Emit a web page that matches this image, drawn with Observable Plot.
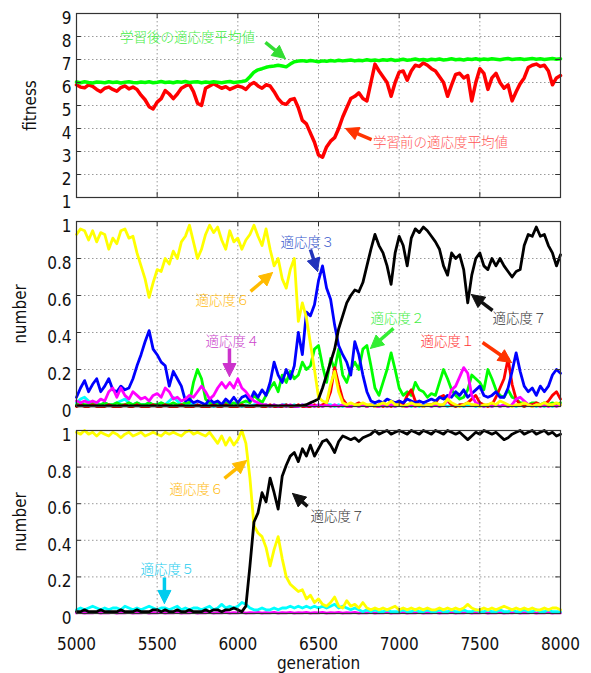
<!DOCTYPE html>
<html><head><meta charset="utf-8">
<script src="https://cdn.jsdelivr.net/npm/d3@7"></script>
<script src="https://cdn.jsdelivr.net/npm/@observablehq/plot@0.6"></script>
<style>body{margin:0;background:#fff} #chart svg{display:block}</style>
</head><body><div id="chart"></div>
<script>
// generations sampled every 25
const generations = d3.range(5000, 8001, 25);
const xTicks = [5000, 5500, 6000, 6500, 7000, 7500, 8000];
const fitnessTicks = [1, 2, 3, 4, 5, 6, 7, 8, 9];
const numberTicks = [0, 0.2, 0.4, 0.6, 0.8, 1];

// Panel 1: mean fitness before / after learning
const fitBefore = [
5.90,5.80,5.77,5.90,5.83,5.70,5.60,5.75,5.80,5.70,
5.62,5.78,5.85,5.72,5.80,5.70,5.45,5.25,4.95,4.85,
5.15,5.30,5.65,5.50,5.30,5.50,5.75,5.85,5.92,5.60,
5.10,5.00,5.75,5.85,5.95,5.85,5.75,5.82,5.70,5.78,
5.85,5.80,5.70,5.90,6.00,5.85,5.75,5.90,5.85,5.60,
5.30,5.10,5.05,5.25,5.30,4.90,4.35,4.20,3.80,3.40,
2.85,2.75,3.20,3.45,3.60,4.00,4.50,4.90,5.30,5.40,
5.55,5.30,5.20,6.00,6.80,6.50,6.25,6.00,5.40,6.00,
6.45,6.50,6.10,6.50,6.75,6.70,6.85,6.75,6.60,6.50,
6.25,6.00,5.40,5.90,6.35,6.40,6.20,6.30,5.20,6.00,
6.60,6.40,5.70,6.20,6.40,6.00,5.75,5.90,5.20,5.60,
5.95,6.20,6.65,6.75,6.80,6.70,6.75,6.50,5.90,6.20,
6.30];
const fitAfter = [
6.02,5.99,6.03,6.00,5.98,6.02,6.01,5.99,6.03,6.00,
6.02,5.98,6.01,6.03,6.00,5.99,6.02,6.00,6.03,5.99,
6.01,6.04,6.00,6.02,5.99,6.03,6.01,6.04,6.00,6.02,
6.03,5.99,6.02,6.00,6.03,6.01,5.99,6.02,6.04,6.00,
6.02,6.04,6.08,6.25,6.45,6.55,6.60,6.66,6.70,6.72,
6.75,6.72,6.68,6.80,6.90,6.93,6.95,6.92,6.96,6.93,
6.90,6.94,6.92,6.96,6.93,6.97,6.94,6.96,6.98,6.94,
6.97,6.95,6.99,6.96,6.98,6.95,6.99,6.97,7.00,6.96,
6.98,7.01,6.97,6.99,7.02,6.98,7.00,6.97,7.01,6.99,
7.02,6.98,7.00,7.03,6.99,7.01,6.98,7.02,7.00,7.03,
6.99,7.02,7.00,7.03,7.01,6.99,7.02,7.04,7.00,7.02,
7.03,7.00,7.02,7.04,7.01,7.03,7.00,7.02,7.04,7.01,
7.03];

// Panel 2: share of individuals per fitness (before learning)
const p2Fit1 = [
0.00,0.01,0.00,0.00,0.01,0.00,0.00,0.00,0.01,0.00,
0.00,0.00,0.01,0.00,0.00,0.01,0.00,0.00,0.00,0.01,
0.00,0.00,0.01,0.00,0.00,0.00,0.01,0.00,0.00,0.00,
0.01,0.00,0.00,0.00,0.01,0.00,0.00,0.01,0.00,0.00,
0.00,0.01,0.00,0.00,0.00,0.01,0.00,0.00,0.01,0.00,
0.00,0.00,0.01,0.00,0.00,0.01,0.00,0.00,0.00,0.01,
0.00,0.01,0.02,0.08,0.21,0.12,0.04,0.01,0.00,0.01,
0.02,0.01,0.00,0.01,0.00,0.01,0.00,0.01,0.00,0.01,
0.03,0.01,0.06,0.09,0.03,0.01,0.00,0.01,0.01,0.02,
0.05,0.06,0.03,0.01,0.00,0.01,0.01,0.02,0.04,0.06,
0.02,0.01,0.00,0.01,0.05,0.10,0.15,0.26,0.12,0.04,
0.01,0.00,0.01,0.01,0.02,0.01,0.01,0.03,0.06,0.08,
0.04];
const p2Fit2 = [
0.01,0.02,0.01,0.01,0.02,0.01,0.01,0.02,0.01,0.01,
0.02,0.01,0.01,0.02,0.01,0.02,0.01,0.01,0.02,0.01,
0.01,0.02,0.01,0.01,0.02,0.01,0.01,0.02,0.02,0.13,
0.20,0.15,0.04,0.02,0.01,0.02,0.01,0.02,0.01,0.02,
0.01,0.02,0.03,0.02,0.06,0.04,0.02,0.06,0.10,0.13,
0.08,0.17,0.13,0.19,0.15,0.17,0.24,0.20,0.22,0.31,
0.33,0.22,0.13,0.26,0.20,0.31,0.17,0.13,0.20,0.24,
0.20,0.31,0.33,0.22,0.10,0.06,0.13,0.20,0.29,0.20,
0.10,0.06,0.08,0.06,0.13,0.09,0.08,0.05,0.07,0.06,
0.13,0.20,0.15,0.09,0.06,0.04,0.05,0.09,0.17,0.15,
0.13,0.09,0.20,0.15,0.09,0.06,0.05,0.09,0.05,0.04,
0.02,0.02,0.01,0.02,0.02,0.01,0.02,0.01,0.02,0.01,
0.02];
const p2Fit3 = [
0.05,0.10,0.14,0.08,0.12,0.15,0.08,0.11,0.15,0.09,
0.08,0.11,0.09,0.10,0.15,0.22,0.28,0.35,0.41,0.31,
0.28,0.24,0.22,0.11,0.19,0.15,0.11,0.03,0.04,0.02,
0.03,0.02,0.01,0.04,0.02,0.03,0.01,0.04,0.02,0.05,
0.02,0.05,0.06,0.03,0.08,0.05,0.09,0.06,0.13,0.24,
0.17,0.13,0.20,0.15,0.22,0.40,0.28,0.51,0.49,0.55,
0.68,0.76,0.64,0.58,0.44,0.33,0.28,0.24,0.17,0.35,
0.28,0.17,0.08,0.03,0.02,0.03,0.02,0.04,0.03,0.02,
0.03,0.02,0.04,0.03,0.02,0.03,0.02,0.03,0.04,0.03,
0.05,0.04,0.06,0.05,0.08,0.06,0.09,0.05,0.07,0.09,
0.11,0.06,0.05,0.06,0.08,0.05,0.05,0.10,0.19,0.29,
0.19,0.11,0.08,0.10,0.06,0.11,0.08,0.11,0.17,0.20,
0.18];
const p2Fit4 = [
0.03,0.02,0.03,0.02,0.03,0.02,0.04,0.03,0.08,0.10,
0.05,0.10,0.06,0.04,0.08,0.06,0.04,0.05,0.03,0.06,
0.07,0.05,0.10,0.08,0.04,0.05,0.03,0.04,0.06,0.05,
0.08,0.11,0.08,0.04,0.06,0.10,0.13,0.10,0.13,0.10,
0.15,0.10,0.08,0.05,0.03,0.02,0.01,0.01,0.00,0.01,
0.00,0.01,0.00,0.01,0.00,0.00,0.01,0.00,0.01,0.00,
0.01,0.00,0.01,0.00,0.01,0.00,0.01,0.00,0.00,0.01,
0.00,0.01,0.00,0.01,0.00,0.00,0.01,0.00,0.01,0.00,
0.01,0.00,0.00,0.01,0.00,0.01,0.00,0.01,0.00,0.01,
0.00,0.01,0.03,0.09,0.11,0.16,0.21,0.18,0.06,0.02,
0.01,0.00,0.01,0.00,0.01,0.00,0.01,0.00,0.01,0.04,
0.05,0.03,0.01,0.00,0.01,0.00,0.01,0.00,0.01,0.00,
0.01];
const p2Fit5 = [
0.02,0.04,0.05,0.03,0.01,0.02,0.01,0.02,0.01,0.01,
0.02,0.03,0.04,0.02,0.01,0.02,0.01,0.01,0.02,0.01,
0.01,0.02,0.01,0.03,0.05,0.03,0.01,0.01,0.02,0.01,
0.01,0.00,0.01,0.01,0.00,0.01,0.00,0.01,0.01,0.00,
0.01,0.00,0.01,0.00,0.01,0.01,0.00,0.01,0.00,0.01,
0.00,0.01,0.01,0.00,0.01,0.00,0.01,0.00,0.01,0.00,
0.01,0.00,0.01,0.01,0.00,0.01,0.00,0.01,0.00,0.01,
0.00,0.01,0.00,0.01,0.01,0.00,0.01,0.00,0.01,0.00,
0.01,0.00,0.01,0.00,0.01,0.00,0.01,0.01,0.00,0.01,
0.00,0.01,0.00,0.01,0.00,0.01,0.00,0.01,0.01,0.00,
0.01,0.00,0.01,0.00,0.01,0.00,0.01,0.00,0.01,0.00,
0.01,0.00,0.01,0.01,0.00,0.01,0.00,0.01,0.00,0.01,
0.01];
const p2Fit6 = [
0.93,0.96,0.95,0.90,0.95,0.89,0.94,0.93,0.85,0.91,
0.88,0.95,0.96,0.91,0.92,0.83,0.76,0.69,0.59,0.67,
0.74,0.73,0.80,0.77,0.84,0.80,0.89,0.92,0.98,0.89,
0.80,0.85,0.93,0.98,0.94,0.97,0.90,0.85,0.95,0.89,
0.91,0.85,0.90,0.93,0.98,0.92,0.87,0.96,0.85,0.76,
0.80,0.69,0.64,0.74,0.80,0.46,0.56,0.48,0.34,0.20,
0.05,0.03,0.02,0.12,0.19,0.08,0.02,0.01,0.02,0.01,
0.01,0.02,0.01,0.01,0.00,0.01,0.02,0.01,0.03,0.01,
0.01,0.00,0.01,0.02,0.01,0.01,0.00,0.01,0.01,0.02,
0.01,0.01,0.04,0.02,0.01,0.00,0.01,0.02,0.01,0.01,
0.00,0.01,0.01,0.02,0.01,0.03,0.02,0.01,0.00,0.01,
0.01,0.02,0.01,0.00,0.01,0.01,0.02,0.01,0.01,0.02,
0.01];
const p2Fit7 = [
0.003,0.003,0.003,0.003,0.003,0.003,0.003,0.003,0.003,0.003,
0.003,0.003,0.003,0.003,0.003,0.003,0.003,0.003,0.003,0.003,
0.003,0.003,0.003,0.003,0.003,0.003,0.003,0.003,0.003,0.003,
0.003,0.003,0.003,0.003,0.003,0.003,0.003,0.003,0.003,0.003,
0.003,0.003,0.003,0.003,0.003,0.003,0.003,0.003,0.003,0.003,
0.003,0.003,0.003,0.003,0.003,0.005,0.005,0.01,0.02,0.03,
0.04,0.10,0.17,0.24,0.31,0.42,0.49,0.56,0.60,0.63,
0.62,0.67,0.76,0.85,0.93,0.87,0.83,0.76,0.66,0.83,
0.92,0.87,0.76,0.91,0.96,0.94,0.97,0.95,0.92,0.89,
0.85,0.76,0.71,0.83,0.80,0.82,0.74,0.56,0.71,0.80,
0.83,0.76,0.74,0.80,0.76,0.80,0.76,0.73,0.70,0.73,
0.74,0.87,0.93,0.92,0.97,0.92,0.93,0.87,0.83,0.76,
0.82];

// Panel 3: share of individuals per fitness (after learning)
const p3Fit4 = [
0.003,0.006,0.002,0.005,0.003,0.006,0.002,0.005,0.003,0.006,
0.002,0.005,0.003,0.006,0.002,0.005,0.003,0.006,0.002,0.005,
0.003,0.006,0.002,0.005,0.003,0.006,0.002,0.005,0.003,0.006,
0.002,0.005,0.003,0.006,0.002,0.005,0.003,0.006,0.002,0.005,
0.003,0.006,0.002,0.005,0.003,0.006,0.002,0.005,0.003,0.006,
0.002,0.005,0.003,0.006,0.002,0.005,0.003,0.006,0.002,0.005,
0.003,0.006,0.002,0.005,0.003,0.006,0.002,0.005,0.003,0.006,
0.002,0.005,0.003,0.006,0.002,0.005,0.003,0.006,0.002,0.005,
0.003,0.006,0.002,0.005,0.003,0.006,0.002,0.005,0.003,0.006,
0.002,0.005,0.003,0.006,0.002,0.005,0.003,0.006,0.002,0.005,
0.003,0.006,0.002,0.005,0.003,0.006,0.002,0.005,0.003,0.006,
0.002,0.005,0.003,0.006,0.002,0.005,0.003,0.006,0.002,0.005,
0.003];
const p3Fit5 = [
0.02,0.03,0.02,0.03,0.04,0.03,0.02,0.03,0.02,0.03,
0.03,0.02,0.04,0.03,0.02,0.03,0.02,0.03,0.04,0.03,
0.02,0.03,0.03,0.02,0.03,0.04,0.02,0.03,0.02,0.03,
0.03,0.02,0.03,0.04,0.02,0.03,0.05,0.03,0.04,0.03,
0.04,0.06,0.05,0.03,0.02,0.02,0.03,0.02,0.02,0.03,
0.02,0.03,0.03,0.04,0.03,0.04,0.03,0.04,0.03,0.04,
0.03,0.04,0.03,0.04,0.05,0.03,0.04,0.03,0.02,0.03,
0.02,0.01,0.02,0.01,0.02,0.01,0.01,0.02,0.01,0.01,
0.01,0.02,0.01,0.01,0.02,0.01,0.01,0.02,0.01,0.01,
0.02,0.01,0.01,0.02,0.01,0.01,0.02,0.01,0.01,0.02,
0.01,0.01,0.02,0.01,0.01,0.02,0.01,0.01,0.02,0.01,
0.01,0.02,0.01,0.01,0.02,0.01,0.01,0.02,0.01,0.01,
0.01];
const p3Fit6 = [
0.99,0.98,1.00,0.98,0.99,0.97,0.99,0.98,0.97,0.99,
0.98,0.96,0.98,0.99,0.97,0.98,0.99,0.97,0.98,0.99,
0.98,0.97,0.99,0.98,0.99,0.98,0.97,0.99,1.00,0.98,
0.99,0.98,0.97,0.99,0.96,0.93,0.97,0.92,0.96,0.92,
0.95,1.00,0.93,0.74,0.48,0.44,0.42,0.36,0.26,0.35,
0.42,0.30,0.20,0.16,0.14,0.12,0.13,0.08,0.10,0.06,
0.08,0.05,0.04,0.06,0.09,0.04,0.03,0.07,0.04,0.05,
0.03,0.06,0.03,0.02,0.03,0.02,0.03,0.02,0.03,0.04,
0.02,0.03,0.02,0.03,0.02,0.03,0.02,0.03,0.02,0.02,
0.03,0.02,0.03,0.02,0.03,0.02,0.03,0.05,0.03,0.02,
0.02,0.03,0.02,0.03,0.02,0.03,0.04,0.03,0.02,0.03,
0.02,0.03,0.02,0.03,0.02,0.02,0.03,0.02,0.03,0.03,
0.02];
const p3Fit7 = [
0.01,0.01,0.02,0.01,0.01,0.01,0.02,0.01,0.01,0.01,
0.01,0.02,0.01,0.01,0.01,0.02,0.01,0.01,0.01,0.02,
0.02,0.01,0.02,0.01,0.01,0.02,0.01,0.01,0.02,0.01,
0.01,0.01,0.02,0.01,0.02,0.02,0.01,0.02,0.02,0.03,
0.02,0.01,0.04,0.26,0.50,0.55,0.66,0.61,0.74,0.66,
0.57,0.75,0.81,0.86,0.88,0.83,0.90,0.86,0.92,0.86,
0.90,0.94,0.95,0.92,0.88,0.94,0.97,0.96,0.95,0.96,
0.94,0.96,0.97,0.98,1.00,0.98,0.99,1.00,0.98,0.99,
1.00,0.99,0.98,1.00,0.99,0.98,1.00,0.99,0.98,1.00,
0.99,0.98,1.00,0.99,0.98,0.99,0.97,0.95,0.97,0.99,
0.98,1.00,0.99,0.98,0.99,0.97,0.95,0.96,0.98,0.99,
1.00,0.98,0.99,1.00,0.98,0.99,1.00,0.98,0.99,0.97,
0.98];

// annotations (data coordinates)
const p1Texts = [
  {x: 5688, y: 7.96, text: "学習後の適応度平均値", color: "#44ee44"},
  {x: 7256, y: 3.39, text: "学習前の適応度平均値", color: "#ff5555"}
];
const p1Arrows = [
  {x1: 6171, y1: 7.74, x2: 6295, y2: 7.04, color: "#33dd33"},
  {x1: 6829, y1: 3.52, x2: 6667, y2: 4.0, color: "#ff3300"}
];
const p2Texts = [
  {x: 6432, y: 0.886, text: "適応度３", color: "#3355cc"},
  {x: 5905, y: 0.573, text: "適応度６", color: "#ffbb11"},
  {x: 5967, y: 0.351, text: "適応度４", color: "#cc44cc"},
  {x: 6990, y: 0.476, text: "適応度２", color: "#44ee44"},
  {x: 7300, y: 0.351, text: "適応度１", color: "#ff3333"},
  {x: 7746, y: 0.476, text: "適応度７", color: "#333333"}
];
const p2Arrows = [
  {x1: 6450, y1: 0.849, x2: 6494, y2: 0.73, color: "#2233bb"},
  {x1: 6079, y1: 0.622, x2: 6215, y2: 0.724, color: "#ffbb00"},
  {x1: 5948, y1: 0.314, x2: 5948, y2: 0.162, color: "#cc33cc"},
  {x1: 6965, y1: 0.422, x2: 6822, y2: 0.314, color: "#33ee33"},
  {x1: 7517, y1: 0.346, x2: 7696, y2: 0.238, color: "#ff3300"},
  {x1: 7579, y1: 0.519, x2: 7448, y2: 0.605, color: "#111111"}
];
const p3Texts = [
  {x: 5744, y: 0.678, text: "適応度６", color: "#ffbb11"},
  {x: 5564, y: 0.24, text: "適応度５", color: "#22ccee"},
  {x: 6618, y: 0.53, text: "適応度７", color: "#333333"}
];
const p3Arrows = [
  {x1: 5917, y1: 0.738, x2: 6054, y2: 0.836, color: "#ffbb00"},
  {x1: 5545, y1: 0.197, x2: 5545, y2: 0.055, color: "#00ccee"},
  {x1: 6432, y1: 0.585, x2: 6339, y2: 0.656, color: "#111111"}
];

const W = 591, ML = 76, MR = 31;
const FONT = '"DejaVu Sans Condensed","DejaVu Sans",sans-serif';
const JP = '"Noto Sans CJK JP","Noto Sans CJK SC",sans-serif';

function rows(values) { return generations.map((g, i) => ({g, v: values[i]})); }

function arrowMarks(arrows, dom, top, bottom) {
  const span = W - ML - MR;
  const px = g => ML + (g - 5000) / 3000 * span;
  const gx = p => 5000 + (p - ML) / span * 3000;
  const py = v => bottom - (v - dom[0]) / (dom[1] - dom[0]) * (bottom - top);
  const vy = p => dom[0] + (bottom - p) / (bottom - top) * (dom[1] - dom[0]);
  const marks = [];
  for (const a of arrows) {
    const x1 = px(a.x1), y1 = py(a.y1), x2 = px(a.x2), y2 = py(a.y2);
    const dx = x2 - x1, dy = y2 - y1, len = Math.hypot(dx, dy);
    const ux = dx / len, uy = dy / len;
    const L = 13, h = 6.5;
    const bx = x2 - ux * L, by = y2 - uy * L;
    const tri = [[x2, y2], [bx - uy * h, by + ux * h], [bx + uy * h, by - ux * h], [x2, y2]]
      .map(([x, y]) => ({x: gx(x), y: vy(y)}));
    const sx = gx(bx + ux * 2), sy = vy(by + uy * 2);
    marks.push(Plot.link([a], {x1: "x1", y1: "y1", x2: () => sx, y2: () => sy, stroke: a.color, strokeWidth: 3.5}));
    marks.push(Plot.line(tri, {x: "x", y: "y", fill: a.color, stroke: a.color, strokeWidth: 1, strokeLinejoin: "miter"}));
  }
  return marks;
}

function fmt(d) { return String(+(+d).toFixed(1)); }

function panel(o) {
  const [y0, y1] = o.yDomain;
  const tl = (y1 - y0) * 0.028;
  return Plot.plot({
    width: W, height: o.height,
    marginLeft: ML, marginRight: MR, marginTop: o.top, marginBottom: o.bottom,
    x: {domain: [5000, 8000], axis: o.xLabels ? undefined : null},
    y: {domain: o.yDomain},
    style: {fontFamily: FONT, fontSize: "17px", color: "#111", background: "white"},
    marks: [
      Plot.gridX(xTicks, {stroke: "#9a9a9a", strokeOpacity: 1, strokeDasharray: "1.5,2.5"}),
      Plot.gridY(o.yTicks, {stroke: "#9a9a9a", strokeOpacity: 1, strokeDasharray: "1.5,2.5"}),
      ...o.series.map(s => Plot.line(rows(s.values), {x: "g", y: "v", stroke: s.color, strokeWidth: o.sw, strokeLinejoin: "round"})),
      Plot.ruleY(o.yTicks, {x1: 5000, x2: 5030, stroke: "#333"}),
      Plot.ruleY(o.yTicks, {x1: 7970, x2: 8000, stroke: "#333"}),
      Plot.ruleX(xTicks, {y1: y0, y2: y0 + tl, stroke: "#333"}),
      Plot.ruleX(xTicks, {y1: y1 - tl, y2: y1, stroke: "#333"}),
      Plot.frame({stroke: "#333", strokeWidth: 1.2}),
      Plot.axisY(o.yTicks, {tickSize: 0, tickPadding: 5, dy: 5, tickFormat: fmt, label: null}),
      ...(o.xLabels ? [
        Plot.axisX(xTicks, {tickSize: 0, tickPadding: 24, tickFormat: d => String(d), label: null}),
        Plot.text(["generation"], {frameAnchor: "bottom", dy: 50, lineAnchor: "middle", textAnchor: "middle", fontSize: 17})
      ] : []),
      Plot.text([o.yLabel], {frameAnchor: "left", dx: o.labelDx, rotate: -90, textAnchor: "middle", lineAnchor: "middle", fontSize: 17}),
      ...arrowMarks(o.arrows, o.yDomain, o.top, o.height - o.bottom),
      Plot.text(o.texts, {x: "x", y: "y", text: "text", fill: d => d.color, fontFamily: JP, fontSize: 13.5, fontWeight: 300})
    ]
  });
}

const chart = document.getElementById("chart");
chart.append(panel({
  height: 215, top: 13, bottom: 18, yDomain: [1, 9], yTicks: fitnessTicks,
  yLabel: "fitness", labelDx: -46, sw: 3.5,
  series: [{values: fitBefore, color: "#ff0000"}, {values: fitAfter, color: "#00ff00"}],
  texts: p1Texts, arrows: p1Arrows, xLabels: false
}));
chart.append(panel({
  height: 205, top: 6, bottom: 14, yDomain: [0, 1], yTicks: numberTicks,
  yLabel: "number", labelDx: -56, sw: 2.8,
  series: [
    {values: p2Fit5, color: "#00ffff"},
    {values: p2Fit2, color: "#00ff00"},
    {values: p2Fit1, color: "#ff0000"},
    {values: p2Fit3, color: "#0000ff"},
    {values: p2Fit4, color: "#ff00ff"},
    {values: p2Fit6, color: "#ffff00"},
    {values: p2Fit7, color: "#000000"}
  ],
  texts: p2Texts, arrows: p2Arrows, xLabels: false
}));
chart.append(panel({
  height: 253, top: 10, bottom: 60, yDomain: [0, 1], yTicks: numberTicks,
  yLabel: "number", labelDx: -56, sw: 2.8,
  series: [
    {values: p3Fit4, color: "#ff00ff"},
    {values: p3Fit5, color: "#00ffff"},
    {values: p3Fit6, color: "#ffff00"},
    {values: p3Fit7, color: "#000000"}
  ],
  texts: p3Texts, arrows: p3Arrows, xLabels: true
}));
</script>
</body></html>
